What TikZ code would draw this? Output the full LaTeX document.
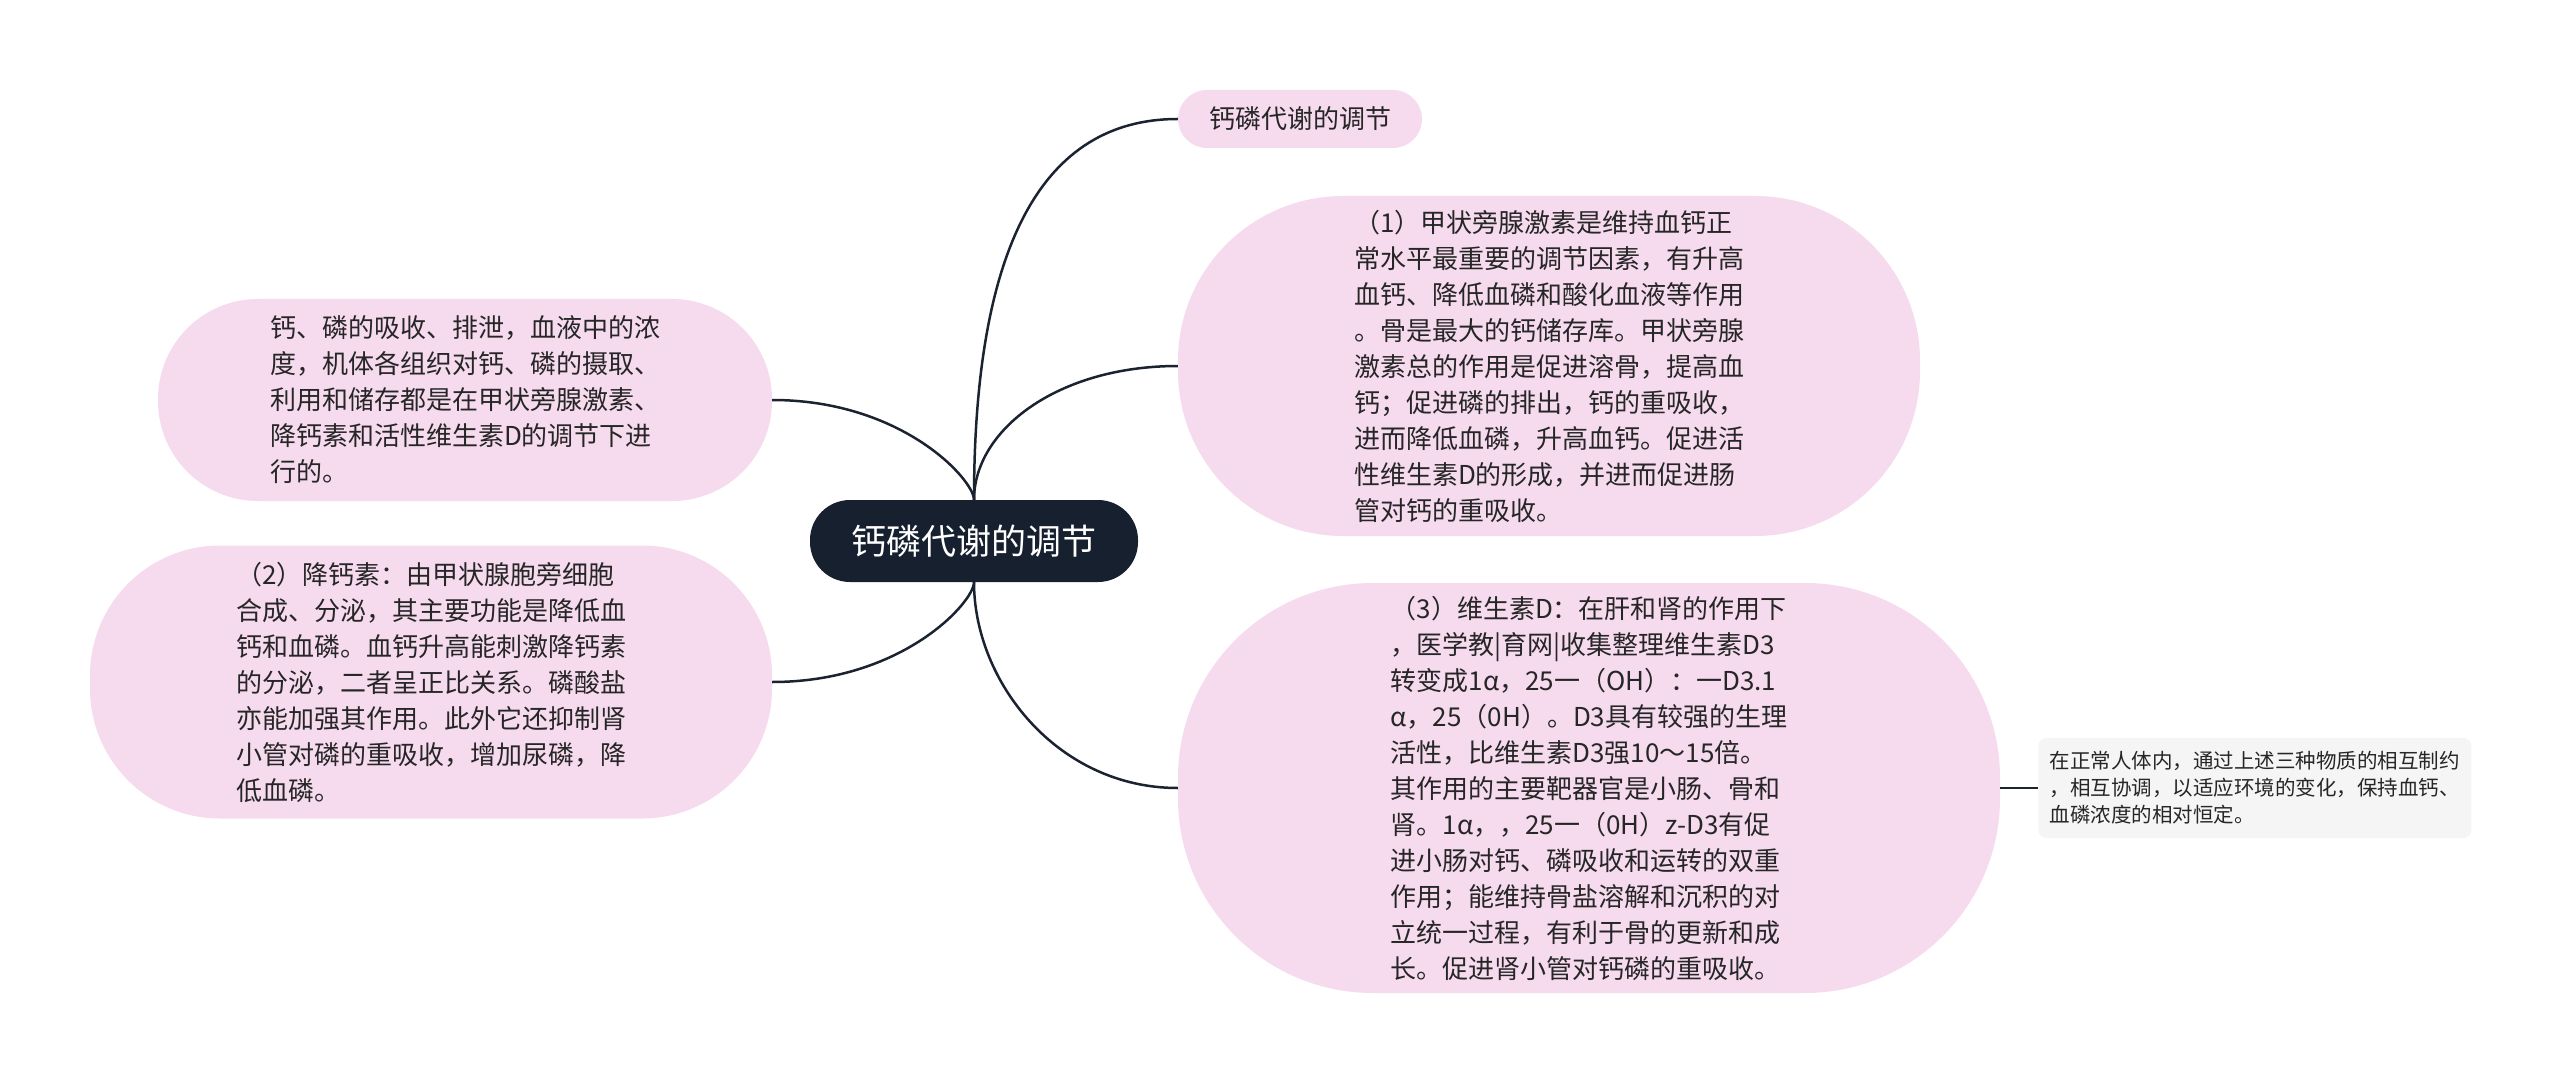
\documentclass[tikz,border=0pt]{standalone}
\usepackage{fontspec}
\newfontfamily\cjk{Noto Sans CJK SC}
\usetikzlibrary{positioning,calc}
\usepackage{xcolor}
\definecolor{navy}{HTML}{16202F}
\definecolor{blush}{HTML}{F6DBEF}
\definecolor{mist}{HTML}{F5F5F5}
\definecolor{ink}{HTML}{262626}
\definecolor{wire}{HTML}{1C2330}
\tikzset{
  hub/.style={fill=navy,text=white,rounded corners=40pt,minimum width=328pt,minimum height=82pt,font=\cjk\fontsize{35}{42}\selectfont},
  leaf/.style={fill=blush,text=ink,align=left,font=\cjk\fontsize{26}{36}\selectfont},
  memo/.style={fill=mist,text=ink,rounded corners=8pt,align=left,minimum width=433pt,minimum height=100pt,font=\cjk\fontsize{20.5}{27}\selectfont},
  link/.style={draw=wire,line width=2.5pt}
}

\begin{document}
\begin{tikzpicture}[x=1pt,y=-1pt]
    \path[use as bounding box,fill=white] (0,0) rectangle (2560,1083);
    \node[hub] (root) at (974,541) {钙磷代谢的调节};
    \node[leaf,rounded corners=29pt,minimum width=244pt,minimum height=58pt] (title) at (1300,119) {钙磷代谢的调节};
    \node[leaf,rounded corners=165pt,minimum width=742pt,minimum height=340pt] (pth) at (1549,366) {（1）甲状旁腺激素是维持血钙正\\常水平最重要的调节因素，有升高\\血钙、降低血磷和酸化血液等作用\\。骨是最大的钙储存库。甲状旁腺\\激素总的作用是促进溶骨，提高血\\钙；促进磷的排出，钙的重吸收，\\进而降低血磷，升高血钙。促进活\\性维生素D的形成，并进而促进肠\\管对钙的重吸收。};
    \node[leaf,rounded corners=195pt,minimum width=822pt,minimum height=410pt] (vitd) at (1589,788) {（3）维生素D：在肝和肾的作用下\\，医学教|育网|收集整理维生素D3\\转变成1α，25一（OH）：一D3.1\\α，25（0H）。D3具有较强的生理\\活性，比维生素D3强10～15倍。\\其作用的主要靶器官是小肠、骨和\\肾。1α，，25一（0H）z-D3有促\\进小肠对钙、磷吸收和运转的双重\\作用；能维持骨盐溶解和沉积的对\\立统一过程，有利于骨的更新和成\\长。促进肾小管对钙磷的重吸收。};
    \node[memo,right=38pt of vitd] (note) {在正常人体内，通过上述三种物质的相互制约\\，相互协调，以适应环境的变化，保持血钙、\\血磷浓度的相对恒定。};
    \node[leaf,rounded corners=100pt,minimum width=614pt,minimum height=202pt] (intro) at (465,400) {钙、磷的吸收、排泄，血液中的浓\\度，机体各组织对钙、磷的摄取、\\利用和储存都是在甲状旁腺激素、\\降钙素和活性维生素D的调节下进\\行的。};
    \node[leaf,rounded corners=130pt,minimum width=682pt,minimum height=273pt] (ct) at (431,682) {（2）降钙素：由甲状腺胞旁细胞\\合成、分泌，其主要功能是降低血\\钙和血磷。血钙升高能刺激降钙素\\的分泌，二者呈正比关系。磷酸盐\\亦能加强其作用。此外它还抑制肾\\小管对磷的重吸收，增加尿磷，降\\低血磷。};
    \draw[link] (root.north) .. controls +(0,-255) and +(-135,0) .. (title.west);
    \draw[link] (root.north) .. controls +(0,-70) and +(-120,0) .. (pth.west);
    \draw[link] (root.south) .. controls +(0,100) and +(-120,0) .. (vitd.west);
    \draw[link] (root.north) .. controls +(0,-20) and +(130,0) .. (intro.east);
    \draw[link] (root.south) .. controls +(0,20) and +(130,0) .. (ct.east);
    \draw[link] (vitd) -- (note);
  \end{tikzpicture}
\end{document}
